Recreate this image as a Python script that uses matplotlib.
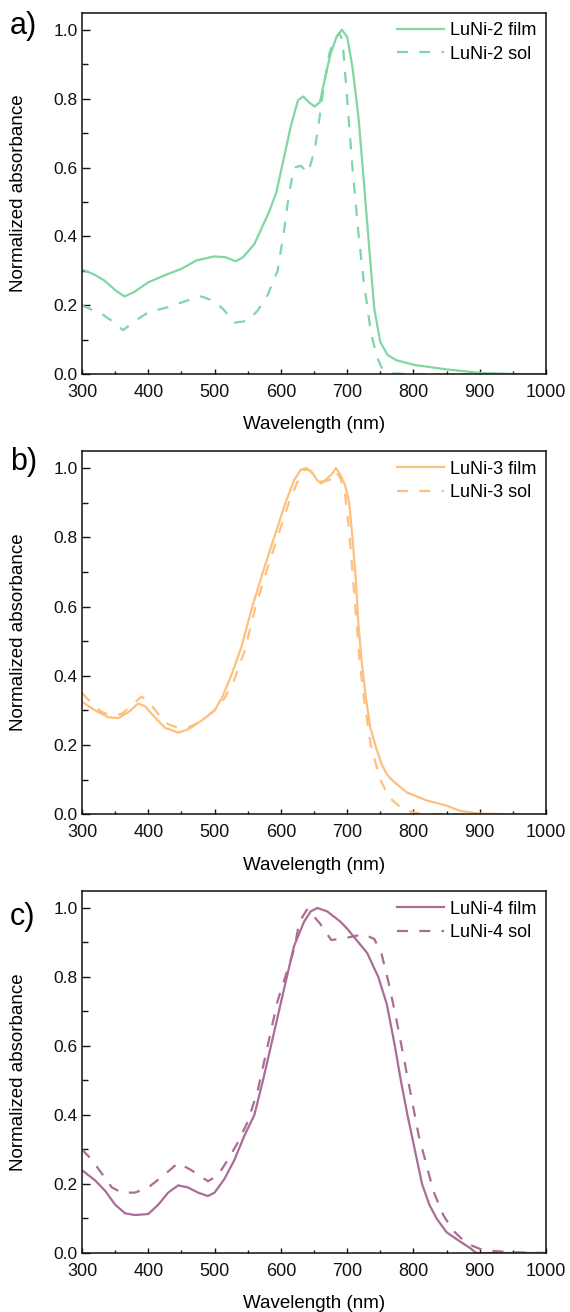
import numpy as np
import matplotlib
matplotlib.use("Agg")
import matplotlib.pyplot as plt
from matplotlib.ticker import MultipleLocator

plt.rcParams['font.family'] = ['Liberation Sans', 'DejaVu Sans']

# ---- data (wavelength nm, normalized absorbance) ----
wl2_film = [300, 318, 334, 351, 364, 378, 400, 428, 450, 472, 499, 516, 532, 543, 560,
            582, 593, 604, 615, 626, 634, 642, 651, 659, 667, 675, 684, 692, 700, 708,
            717, 725, 733, 741, 750, 761, 774, 802, 851, 901, 950, 1000]
ab2_film = [0.304, 0.29, 0.272, 0.243, 0.226, 0.238, 0.267, 0.29, 0.306, 0.33, 0.342, 0.34,
            0.328, 0.34, 0.378, 0.47, 0.527, 0.623, 0.72, 0.796, 0.806, 0.79, 0.777, 0.79,
            0.863, 0.93, 0.979, 1.0, 0.979, 0.892, 0.748, 0.565, 0.373, 0.19, 0.094, 0.056,
            0.041, 0.027, 0.014, 0.004, 0.001, 0.0]
wl2_sol = [300, 330, 345, 362, 380, 400, 430, 460, 480, 500, 515, 530, 550, 565, 580, 595,
           605, 612, 620, 630, 641, 651, 658, 664, 673, 680, 688, 693, 700, 708, 717, 725,
           736, 745, 752, 765, 800, 1000]
ab2_sol = [0.20, 0.175, 0.155, 0.128, 0.155, 0.18, 0.195, 0.215, 0.226, 0.212, 0.185, 0.15,
           0.155, 0.185, 0.23, 0.30, 0.42, 0.52, 0.60, 0.605, 0.585, 0.65, 0.74, 0.825, 0.93,
           0.97, 0.99, 0.97, 0.80, 0.60, 0.41, 0.27, 0.12, 0.05, 0.02, 0.003, 0.0, 0.0]

wl3_film = [300, 320, 340, 355, 370, 385, 395, 410, 425, 445, 460, 480, 500, 512, 525, 540,
            557, 573, 590, 607, 620, 630, 638, 646, 655, 661, 670, 678, 683, 690, 697, 703,
            708, 713, 717, 722, 728, 735, 744, 752, 760, 770, 790, 820, 850, 870, 900, 950, 1000]
ab3_film = [0.325, 0.30, 0.28, 0.278, 0.295, 0.32, 0.312, 0.28, 0.25, 0.236, 0.245, 0.27,
            0.30, 0.34, 0.40, 0.48, 0.60, 0.70, 0.80, 0.90, 0.965, 0.995, 1.0, 0.99, 0.965,
            0.955, 0.97, 0.985, 1.0, 0.98, 0.95, 0.90, 0.80, 0.68, 0.55, 0.44, 0.34, 0.25,
            0.19, 0.145, 0.115, 0.095, 0.063, 0.04, 0.025, 0.01, 0.002, 0.0, 0.0]
wl3_sol = [300, 315, 330, 345, 360, 375, 390, 400, 415, 430, 445, 460, 480, 500, 515, 530,
           545, 562, 578, 595, 612, 625, 635, 642, 655, 663, 673, 683, 690, 697, 703, 711,
           719, 725, 736, 750, 763, 785, 810, 850, 1000]
ab3_sol = [0.35, 0.32, 0.295, 0.285, 0.29, 0.315, 0.34, 0.325, 0.29, 0.26, 0.25, 0.25, 0.27,
           0.30, 0.335, 0.39, 0.47, 0.60, 0.70, 0.80, 0.90, 0.96, 0.995, 0.995, 0.97, 0.96,
           0.965, 0.99, 0.97, 0.92, 0.82, 0.63, 0.44, 0.34, 0.195, 0.10, 0.05, 0.012, 0.002,
           0.0, 0.0]

wl4_film = [300, 320, 335, 350, 365, 380, 400, 415, 430, 445, 460, 475, 490, 500, 515, 530,
            545, 560, 573, 585, 597, 609, 620, 635, 645, 655, 670, 690, 700, 730, 747, 760,
            772, 781, 791, 802, 813, 824, 835, 850, 873, 885, 895, 1000]
ab4_film = [0.24, 0.21, 0.18, 0.14, 0.115, 0.11, 0.113, 0.14, 0.175, 0.196, 0.19, 0.175,
            0.165, 0.175, 0.215, 0.27, 0.34, 0.40, 0.50, 0.60, 0.70, 0.80, 0.89, 0.96, 0.99,
            1.0, 0.99, 0.96, 0.94, 0.87, 0.80, 0.72, 0.60, 0.50, 0.40, 0.30, 0.20, 0.14,
            0.10, 0.06, 0.03, 0.015, 0.0, 0.0]
wl4_sol = [300, 315, 330, 345, 360, 380, 400, 420, 445, 465, 490, 505, 520, 535, 550, 565,
           580, 595, 610, 620, 628, 640, 659, 676, 703, 725, 741, 752, 763, 774, 791, 808,
           819, 830, 845, 860, 880, 900, 920, 950, 1000]
ab4_sol = [0.30, 0.27, 0.23, 0.19, 0.175, 0.175, 0.19, 0.22, 0.261, 0.24, 0.208, 0.225,
           0.27, 0.32, 0.38, 0.47, 0.60, 0.73, 0.82, 0.88, 0.96, 0.997, 0.955, 0.907, 0.915,
           0.924, 0.91, 0.866, 0.78, 0.68, 0.51, 0.34, 0.26, 0.18, 0.11, 0.065, 0.028, 0.012,
           0.006, 0.002, 0.0]

panels = [
    ("a)", "LuNi-2", "#80d6a4", wl2_film, ab2_film, wl2_sol, ab2_sol),
    ("b)", "LuNi-3", "#fdc07f", wl3_film, ab3_film, wl3_sol, ab3_sol),
    ("c)", "LuNi-4", "#ab6d95", wl4_film, ab4_film, wl4_sol, ab4_sol),
]

W, H = 570, 1312
fig = plt.figure(figsize=(W / 100, H / 100), dpi=100)

# axes boxes in pixels: (left, top, right, bottom)
boxes = [(82, 12.5, 546, 374.3), (82, 450.7, 546, 814.3), (82, 890.7, 546, 1253)]
letter_y = [26, 462, 917]

for (letter, name, col, xf, yf, xs, ys), (l, t, r, b), ly in zip(panels, boxes, letter_y):
    ax = fig.add_axes([l / W, 1 - b / H, (r - l) / W, (b - t) / H])
    ax.plot(xf, yf, color=col, lw=1.6, label=name + " film")
    ax.plot(xs, ys, color=col, lw=1.6, ls=(0, (5, 5)), label=name + " sol")
    ax.set_xlim(300, 1000)
    ax.set_ylim(0, 1.05)
    ax.xaxis.set_major_locator(MultipleLocator(100))
    ax.xaxis.set_minor_locator(MultipleLocator(50))
    ax.yaxis.set_major_locator(MultipleLocator(0.2))
    ax.yaxis.set_minor_locator(MultipleLocator(0.1))
    ax.yaxis.set_major_formatter(plt.FuncFormatter(lambda v, p: "%.1f" % v))
    ax.tick_params(axis='both', which='both', direction='in',
                   top=False, right=False, width=1.0, colors='#111111')
    ax.tick_params(axis='x', which='major', length=3.5, pad=7, labelsize=13)
    ax.tick_params(axis='x', which='minor', length=2.5)
    ax.tick_params(axis='y', which='major', length=5.5, pad=3, labelsize=12.5)
    ax.tick_params(axis='y', which='minor', length=4)
    for sp in ax.spines.values():
        sp.set_linewidth(1.1)
        sp.set_color('#111111')
    ax.set_xlabel("Wavelength (nm)", fontsize=13.5)
    ax.set_ylabel("Normalized absorbance", fontsize=13.5)
    ax.xaxis.set_label_coords(0.5, -0.14)
    ax.xaxis.label.set_va('center')
    ax.yaxis.set_label_coords(-0.136, 0.5)
    ax.yaxis.label.set_va('center')
    ax.legend(loc='upper right', frameon=False, fontsize=13, handlelength=2.6,
              handletextpad=0.3, labelspacing=0.35, borderaxespad=0.15,
              bbox_to_anchor=(1.0, 1.0))
    fig.text(10 / W, 1 - ly / H, letter, fontsize=22, ha='left', va='center')

fig.savefig("out.png", dpi=100)
